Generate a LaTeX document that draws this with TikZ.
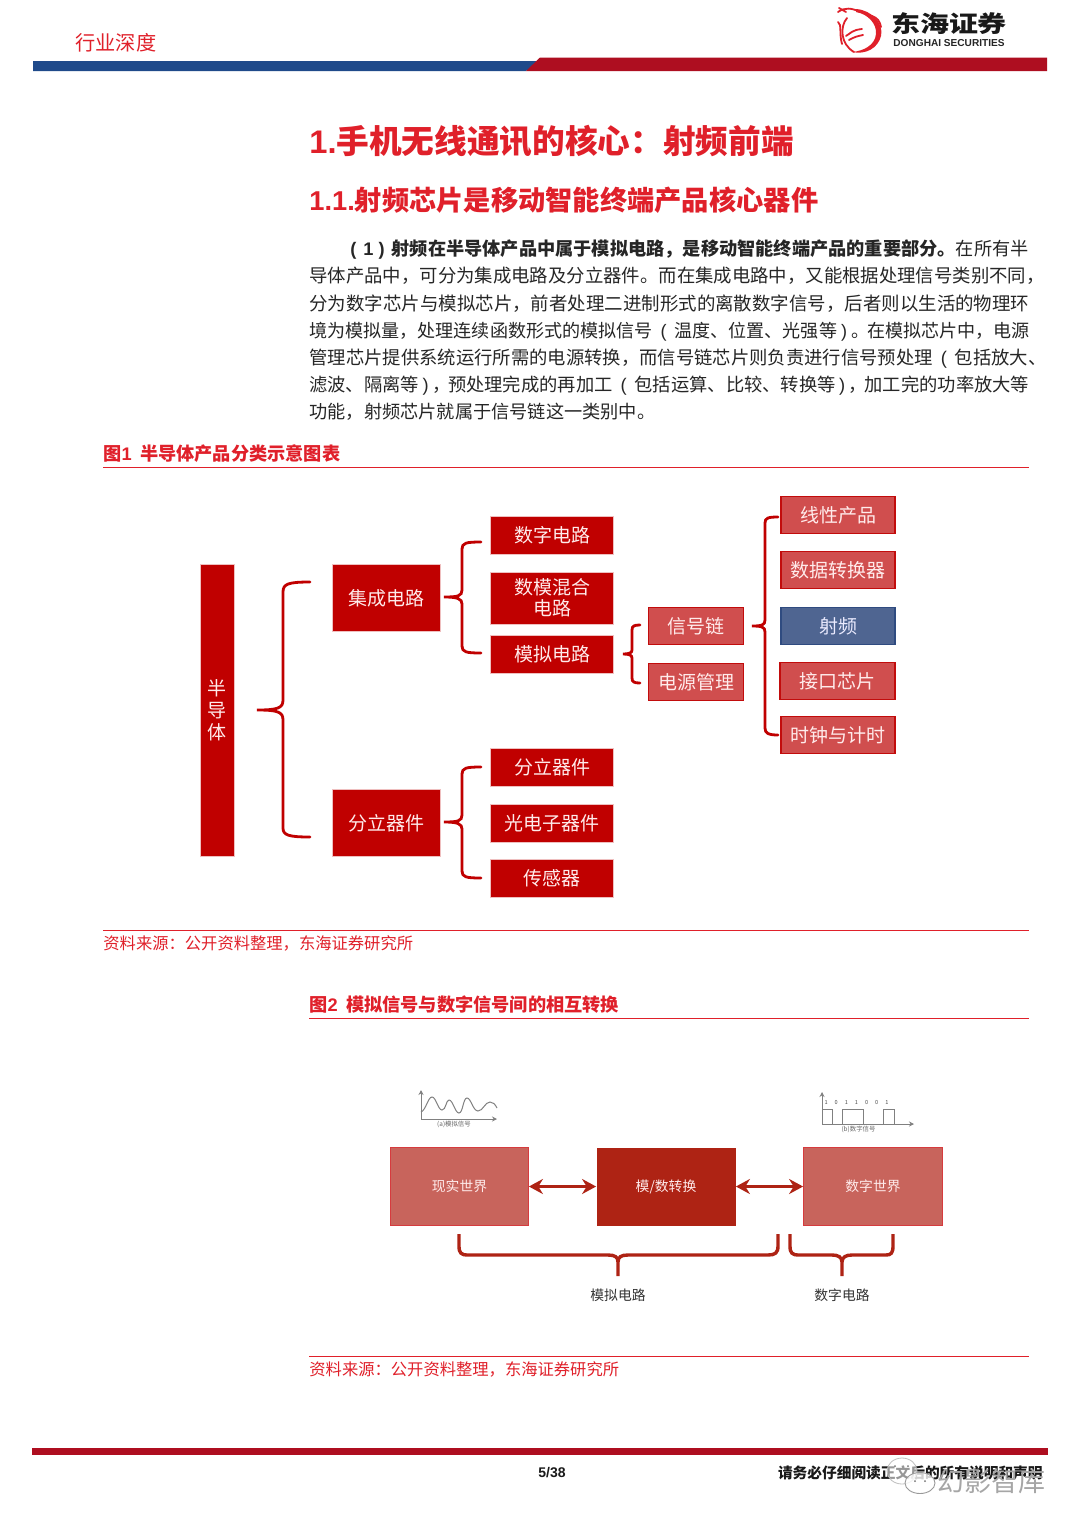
\documentclass[tikz,border=0pt]{standalone}
\usepackage{fontspec}
\usetikzlibrary{arrows.meta}
\setmainfont{Noto Sans CJK SC}
\newfontfamily\lat{Liberation Sans}
\definecolor{hred}{HTML}{C00000}
\definecolor{lred}{HTML}{D04E4E}
\definecolor{bblue}{HTML}{4F6591}
\definecolor{bborder}{HTML}{2F4B80}
\definecolor{tred}{HTML}{E0202A}
\definecolor{pink}{HTML}{C8645C}
\definecolor{dkr}{HTML}{AE2314}
\definecolor{barred}{HTML}{AE0E20}
\definecolor{barblue}{HTML}{1F4A8A}
\newcommand{\fs}[1]{\fontsize{#1}{#1}\selectfont}
\newcommand{\lpn}{\makebox[11pt][c]{\lat (}}
\newcommand{\rpd}{\makebox[7pt][c]{\lat )}\makebox[8pt][l]{。}}
\newcommand{\rpc}{\makebox[6.5pt][c]{\lat )}\makebox[8pt][l]{，}}
\tikzset{
 px/.style={x=0.5pt,y=-0.5pt},
 bodyline/.style={anchor=west,inner sep=0,text=black!85,font=\fs{9.1},text height=8.4pt,text depth=2pt},
 hbox/.style={draw=white!75!hred,line width=0.4pt,fill=hred,text=white!92!red,inner sep=0,align=center,font=\fs{9.5},text height=8.2pt,text depth=1pt},
 lbox/.style={draw=hred!85!lred,line width=0.6pt,fill=lred,text=white!92!red,inner sep=0,align=center,font=\fs{9.5},text height=8.2pt,text depth=1pt},
 bluebox/.style={draw=bborder,line width=0.6pt,fill=bblue,text=white!92!blue,inner sep=0,align=center,font=\fs{9.5},text height=8.2pt,text depth=1pt},
 multi/.style={text height=,text depth=},
 brace/.style={draw=hred,line width=1.4pt,line cap=round},
 abox/.style={inner sep=0,align=center,text=white!92!red,font=\fs{6.9},text height=6pt,text depth=0.8pt},
 rule/.style={draw=tred,line width=0.55pt},
 src/.style={anchor=west,inner sep=0,text=tred,font=\fs{8.15}},
 figt/.style={anchor=west,inner sep=0,text=tred,font=\bfseries\fs{9.1}},
 wave/.style={draw=black!50,line width=0.5pt},
 dbrace/.style={draw=dkr,line width=1.7pt,line cap=butt},
 darr/.style={{Stealth[length=7pt,width=7.5pt]}-{Stealth[length=7pt,width=7.5pt]},draw=dkr,line width=1.8pt},
 tip/.style={-{Stealth[length=2.5pt,width=2.5pt]}},
}
\newcommand{\bx}[7]{\node[#1,minimum width=#4*0.5pt,minimum height=#5*0.5pt] (#6) at (#2,#3) {#7};}
\begin{document}
\begin{tikzpicture}[px]
\useasboundingbox (0,0) rectangle (1080,1526);
\fill[white] (0,0) rectangle (1080,1526);
% header
\node[anchor=west,inner sep=0,text=tred,font=\fs{10.1}] (hdr) at (75,43) {行业深度};
\fill[barblue] (33,61) -- (540,61) -- (526,71) -- (33,71) -- cycle;
\fill[barred] (540,57.5) -- (1047,57.5) -- (1047,71) -- (526,71) -- cycle;
% logo dragon
\fill[tred] (856,9) .. controls (872,10) and (884,24) .. (881,36) .. controls (878,48) and (866,55) .. (852,52) .. controls (864,51) and (875,45) .. (876,34) .. controls (877,24) and (868,14) .. (856,12) -- cycle;
\begin{scope}[draw=tred,line width=0.9pt,line cap=round]
\draw (838,12) .. controls (845,7) and (852,8) .. (860,12);
\draw (839,8) -- (846,12);
\draw (847,18) .. controls (840,26) and (840,44) .. (854,52);
\draw (838,22) .. controls (842,24) and (839,34) .. (842,44);
\draw (846,36) .. controls (851,33) and (852,30) .. (862,29);
\draw (849,40) .. controls (854,37) and (858,36) .. (863,35);
\draw (872,16) .. controls (878,18) and (880,22) .. (881,27);
\end{scope}
\node[inner sep=0,font=\bfseries\fs{11.5},text=black!90,xscale=1.26,transform shape] (lg1) at (949,24) {东海证券};
\node[inner sep=0,font=\lat\bfseries\fs{5.05},text=black!85] (lg2) at (949,43.5) {DONGHAI SECURITIES};
% headings
\node[anchor=west,inner sep=0,text=tred,font=\bfseries\fs{16.33}] (h1) at (309,141) {{\lat 1.}手机无线通讯的核心：射频前端};
\node[anchor=west,inner sep=0,text=tred,font=\bfseries\fs{13.63}] (h2) at (309,200) {{\lat 1.1.}射频芯片是移动智能终端产品核心器件};
% body
\node[bodyline] (l1) at (350,249) {\bfseries{\lat (\hspace{3.5pt}1\hspace{2.5pt})\hspace{3.5pt}}射频在半导体产品中属于模拟电路，是移动智能终端产品的重要部分。\mdseries 在所有半};
\node[bodyline,font=\fs{9.19}] (l2) at (309,276) {导体产品中，可分为集成电路及分立器件。而在集成电路中，又能根据处理信号类别不同，};
\node[bodyline,font=\fs{9.23}] (l3) at (309,304) {分为数字芯片与模拟芯片，前者处理二进制形式的离散数字信号，后者则以生活的物理环};
\node[bodyline,font=\fs{9.03}] (l4) at (309,331) {境为模拟量，处理连续函数形式的模拟信号\lpn 温度、位置、光强等\rpd 在模拟芯片中，电源};
\node[bodyline,font=\fs{9.17}] (l5) at (309,358) {管理芯片提供系统运行所需的电源转换，而信号链芯片则负责进行信号预处理\lpn 包括放大、};
\node[bodyline,font=\fs{9.14}] (l6) at (309,385) {滤波、隔离等\rpc 预处理完成的再加工\lpn 包括运算、比较、转换等\rpc 加工完的功率放大等};
\node[bodyline] (l7) at (309,412) {功能，射频芯片就属于信号链这一类别中。};
% fig 1
\node[figt] (f1) at (103,453.5) {图{\lat 1}\ \ 半导体产品分类示意图表};
\draw[rule] (103,467.5) -- (1029,467.5);
\bx{hbox,multi}{217}{710}{34}{292}{semi}{半\\[1.4pt]导\\[1.4pt]体}
\bx{hbox}{386}{598}{108}{67}{ic}{集成电路}
\bx{hbox}{386}{823}{108}{67}{disc}{分立器件}
\bx{hbox}{552}{535}{123}{38}{d1}{数字电路}
\bx{hbox,multi}{552}{598}{123}{52}{d2}{数模混合\\[1pt]电路}
\bx{hbox}{552}{654}{123}{38}{d3}{模拟电路}
\bx{hbox}{552}{767}{123}{38}{e1}{分立器件}
\bx{hbox}{552}{823}{123}{38}{e2}{光电子器件}
\bx{hbox}{552}{878}{123}{38}{e3}{传感器}
\bx{lbox}{696}{626}{95}{37}{s1}{信号链}
\bx{lbox}{696}{682}{95}{37}{s2}{电源管理}
\bx{lbox}{838}{515}{114}{37}{r1}{线性产品}
\bx{lbox}{838}{570}{114}{37}{r2}{数据转换器}
\bx{bluebox}{838}{626}{114}{37}{r3}{射频}
\bx{lbox}{837.5}{681}{115}{37}{r4}{接口芯片}
\bx{lbox}{838}{735}{114}{37}{r5}{时钟与计时}
% braces
\draw[brace] (310,582) .. controls (288,582) and (283,584) .. (283,592) -- (283,700) .. controls (283,708) and (278,710) .. (257,710) .. controls (278,710) and (283,712) .. (283,720) -- (283,828) .. controls (283,835) and (288,837) .. (310,837);
\draw[brace] (481,542) .. controls (466,542) and (462,543) .. (462,549) -- (462,590) .. controls (462,596) and (458,597) .. (444,597) .. controls (458,597) and (462,599) .. (462,604) -- (462,646) .. controls (462,652) and (466,653) .. (481,653);
\draw[brace] (481,767) .. controls (466,767) and (462,768) .. (462,774) -- (462,815) .. controls (462,821) and (458,822) .. (444,822) .. controls (458,822) and (462,824) .. (462,829) -- (462,871) .. controls (462,877) and (466,878) .. (481,878);
\draw[brace] (640,625) .. controls (634,625) and (632,626) .. (632,630) -- (632,650) .. controls (632,653) and (629,654) .. (623,654) .. controls (629,654) and (632,655) .. (632,658) -- (632,678) .. controls (632,682) and (634,683) .. (640,683);
\draw[brace] (778,517) .. controls (768,517) and (765,518) .. (765,523) -- (765,620) .. controls (765,625) and (762,626) .. (752,626) .. controls (762,626) and (765,627) .. (765,632) -- (765,728) .. controls (765,733) and (768,735) .. (778,735);
\node[src] (s1t) at (103,943) {资料来源：公开资料整理，东海证券研究所};
\draw[rule] (103,930.5) -- (1029,930.5);
% fig 2
\node[figt] (f2) at (309,1004.5) {图{\lat 2}\ \ 模拟信号与数字信号间的相互转换};
\draw[rule] (309,1018.5) -- (1029,1018.5);
\node[abox,fill=pink,draw=tred!60!pink,line width=0.4pt,minimum width=69pt,minimum height=39pt] (real) at (459.5,1186.5) {现实世界};
\node[abox,fill=dkr,minimum width=69.5pt,minimum height=39pt] (ad) at (666,1186.5) {模/数转换};
\node[abox,fill=pink,draw=tred!60!pink,line width=0.4pt,minimum width=69.5pt,minimum height=39pt] (dig) at (873,1186.5) {数字世界};
\draw[darr] (real) -- (ad);
\draw[darr] (ad) -- (dig);
\draw[dbrace] (459,1234) -- (459,1246) .. controls (459,1253) and (461,1255) .. (468,1255) -- (608,1255) .. controls (615,1255) and (618,1257) .. (618,1262) -- (618,1276) (618,1262) .. controls (618,1257) and (621,1255) .. (628,1255) -- (768,1255) .. controls (775,1255) and (778,1253) .. (778,1246) -- (778,1234);
\draw[dbrace] (790,1234) -- (790,1246) .. controls (790,1253) and (792,1255) .. (799,1255) -- (832,1255) .. controls (838,1255) and (842,1257) .. (842,1262) -- (842,1276) (842,1262) .. controls (842,1257) and (846,1255) .. (852,1255) -- (886,1255) .. controls (891,1255) and (893,1253) .. (893,1246) -- (893,1234);
\node[inner sep=0,text=black!80,font=\fs{6.9}] (ac) at (618,1295) {模拟电路};
\node[inner sep=0,text=black!80,font=\fs{6.9}] (dc) at (842,1295) {数字电路};
% analog wave
\draw[wave,tip] (421,1119) -- (421,1090);
\draw[wave,tip] (421,1119) -- (497,1119);
\draw[wave] (421,1112) .. controls (426,1110) and (428,1097) .. (432,1097) .. controls (436,1097) and (438,1110) .. (442,1110) .. controls (446,1110) and (446,1100) .. (449,1100) .. controls (453,1100) and (455,1113) .. (459,1113) .. controls (463,1113) and (463,1098) .. (467,1098) .. controls (471,1098) and (473,1111) .. (478,1111) .. controls (483,1111) and (485,1102) .. (490,1102) .. controls (493,1102) and (495,1104) .. (497,1108);
\node[inner sep=0,text=black!60,font=\fs{3.2}] (aw) at (454,1124.5) {(a)模拟信号};
% digital wave
\draw[wave,tip] (822,1124) -- (822,1092);
\draw[wave,tip] (822,1124) -- (914,1124);
\draw[wave] (822,1109) -- (832,1109) -- (832,1124) (842,1124) -- (842,1109) -- (863,1109) -- (863,1124) (883,1124) -- (883,1109) -- (894,1109) -- (894,1124);
\node[inner sep=0,text=black!60,font=\fs{3.2}] (dw) at (858.5,1129) {(b)数字信号};
\node[inner sep=0,text=black!70,font=\fs{2.8}] (bits) at (856.5,1102.5) {1\hspace{3.5pt}0\hspace{3.5pt}1\hspace{3.5pt}1\hspace{3.5pt}0\hspace{3.5pt}0\hspace{3.5pt}1};
\node[src] (s2t) at (309,1369) {资料来源：公开资料整理，东海证券研究所};
\draw[rule] (309,1356.5) -- (1029,1356.5);
% footer
\fill[barred] (32,1448) rectangle (1048,1455);
\node[inner sep=0,font=\lat\bfseries\fs{7},text=black!90] (pg) at (552,1473) {5/38};
\node[anchor=east,inner sep=0,font=\bfseries\fs{7.35},text=black!90] (disc2) at (1043,1473) {请务必仔细阅读正文后的所有说明和声明};
% watermark
\draw[black!25,line width=0.4pt,fill=white,fill opacity=0.55] (902,1471) ellipse (15 and 13);
\draw[black!40,line width=0.45pt,fill=white,fill opacity=0.8] (920,1483) ellipse (15 and 10.5);
\fill[black!55] (915,1481) circle (1) (925,1481) circle (1) (895,1466) circle (1) (908,1466) circle (1);
\node[anchor=west,inner sep=0,font=\fs{13.5},text=black!35] (wm) at (937,1481) {幻影智库};
\end{tikzpicture}
\end{document}
